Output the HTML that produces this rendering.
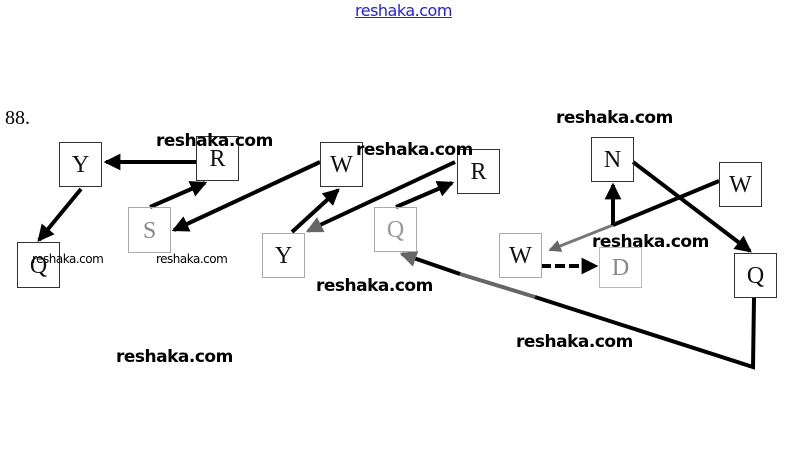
<!DOCTYPE html>
<html><head><meta charset="utf-8"><style>
body{margin:0;width:808px;height:473px;background:#fff;position:relative;overflow:hidden;font-family:"Liberation Serif",serif}
.b{position:absolute;border:1.5px solid #333;box-sizing:border-box;font-size:24px;text-align:center;color:#111}
.w{position:absolute;font-family:"DejaVu Sans","Liberation Sans",sans-serif;font-weight:bold;font-size:17px;color:#000;letter-spacing:-0.5px}
.s{font-size:12px;font-weight:normal}
</style></head><body>
<div style="position:absolute;left:5px;top:107px;font-size:20px">88.</div>
<div class="w" style="left:355px;top:1px;color:#2222dd;font-weight:normal;font-size:16px;text-decoration:underline">reshaka.com</div>
<svg width="808" height="473" style="position:absolute;left:0;top:0">
<defs><marker id="a" markerWidth="4.2" markerHeight="4.2" refX="3.6" refY="2.1" orient="auto"><path d="M0,0L4.2,2.1L0,4.2z" fill="#000"/></marker>
<marker id="g" markerWidth="4.2" markerHeight="4.2" refX="3.6" refY="2.1" orient="auto"><path d="M0,0L4.2,2.1L0,4.2z" fill="#666"/></marker></defs>
<g stroke="#000" stroke-width="4" fill="none">
<line x1="196" y1="162" x2="106" y2="162" marker-end="url(#a)"/>
<line x1="81" y1="189" x2="39" y2="240" marker-end="url(#a)"/>
<line x1="150" y1="207" x2="205" y2="183" marker-end="url(#a)"/>
<line x1="320" y1="162" x2="174" y2="230" marker-end="url(#a)"/>
<line x1="292" y1="232" x2="338" y2="190" marker-end="url(#a)"/>
<line x1="455" y1="162" x2="320" y2="225"/>
<line x1="320" y1="225" x2="308" y2="231" stroke="#666" marker-end="url(#g)"/>
<line x1="396" y1="207" x2="452" y2="183" marker-end="url(#a)"/>
<line x1="633" y1="162" x2="750" y2="251" marker-end="url(#a)"/>
<line x1="719" y1="181" x2="613" y2="225"/>
<line x1="613" y1="225" x2="550" y2="250" stroke="#777" stroke-width="3" marker-end="url(#g)"/>
<line x1="613" y1="225" x2="613" y2="185" marker-end="url(#a)"/>
<line x1="541" y1="266" x2="596" y2="266" stroke-dasharray="10,4" marker-end="url(#a)"/>
<polyline points="754,298 753,367 535,297"/>
<line x1="535" y1="297" x2="460" y2="274" stroke="#666"/>
<line x1="460" y1="274" x2="402" y2="254" marker-end="url(#g)"/>
</g></svg>
<div class="b" style="left:59px;top:142px;width:43px;height:45px;line-height:45px">Y</div>
<div class="b" style="left:196px;top:136px;width:43px;height:45px;line-height:45px">R</div>
<div class="b" style="left:128px;top:207px;width:43px;height:46px;line-height:46px;color:#888;border-color:#aaa">S</div>
<div class="b" style="left:17px;top:242px;width:43px;height:46px;line-height:46px">Q</div>
<div class="b" style="left:320px;top:142px;width:43px;height:45px;line-height:45px">W</div>
<div class="b" style="left:262px;top:233px;width:43px;height:45px;line-height:45px;border-color:#aaa">Y</div>
<div class="b" style="left:457px;top:149px;width:43px;height:45px;line-height:45px">R</div>
<div class="b" style="left:374px;top:207px;width:43px;height:45px;line-height:45px;color:#999;border-color:#aaa">Q</div>
<div class="b" style="left:591px;top:137px;width:43px;height:45px;line-height:45px">N</div>
<div class="b" style="left:719px;top:162px;width:43px;height:45px;line-height:45px">W</div>
<div class="b" style="left:499px;top:233px;width:43px;height:45px;line-height:45px;border-color:#aaa">W</div>
<div class="b" style="left:599px;top:247px;width:43px;height:41px;line-height:41px;color:#888;border-color:#bbb">D</div>
<div class="b" style="left:734px;top:253px;width:43px;height:45px;line-height:45px">Q</div>
<div class="w" style="left:156px;top:131px">reshaka.com</div>
<div class="w" style="left:356px;top:140px">reshaka.com</div>
<div class="w" style="left:556px;top:108px">reshaka.com</div>
<div class="w" style="left:592px;top:232px">reshaka.com</div>
<div class="w" style="left:316px;top:276px">reshaka.com</div>
<div class="w" style="left:516px;top:332px">reshaka.com</div>
<div class="w" style="left:116px;top:347px">reshaka.com</div>
<div class="w s" style="left:32px;top:252px">reshaka.com</div>
<div class="w s" style="left:156px;top:252px">reshaka.com</div>
</body></html>
